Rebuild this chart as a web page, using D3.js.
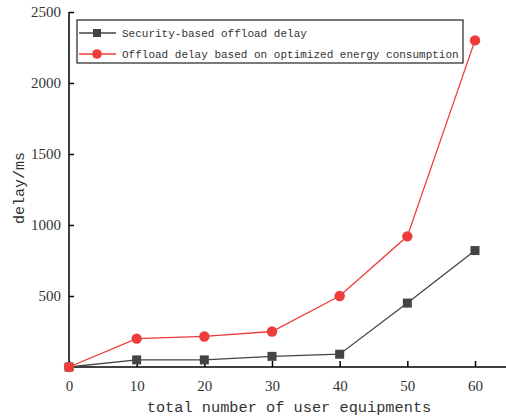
<!DOCTYPE html>
<html><head><meta charset="utf-8">
<script src="https://cdn.jsdelivr.net/npm/d3@7"></script>
<style>body{margin:0;background:#fff}svg{display:block}</style>
</head><body>
<svg id="chart" width="506" height="417"></svg>
<script>
const users = [0, 10, 20, 30, 40, 50, 60];
const securityDelay = [0, 50, 50, 75, 90, 450, 820];
const energyDelay = [0, 200, 215, 250, 500, 920, 2300];
const xTicks = [0, 10, 20, 30, 40, 50, 60];
const yTicks = [500, 1000, 1500, 2000, 2500];
const seriesNames = ["Security-based offload delay", "Offload delay based on optimized energy consumption"];

const svg = d3.select("#chart");
const x = d3.scaleLinear().domain([0, 60]).range([69, 475]);
const y = d3.scaleLinear().domain([0, 2500]).range([367, 12]);
const serif = "'Liberation Serif', 'DejaVu Serif', serif";
const mono = "'Liberation Mono', monospace";

// axes: ticks point inward
const xAxis = svg.append("g").attr("transform", "translate(0,367)")
  .call(d3.axisBottom(x).tickValues(xTicks).tickFormat(d3.format("d"))
    .tickSizeInner(-6).tickSizeOuter(0).tickPadding(13));
xAxis.select(".domain").attr("d", "M69,0H506");
const yAxis = svg.append("g").attr("transform", "translate(69,0)")
  .call(d3.axisLeft(y).tickValues(yTicks).tickFormat(d3.format("d"))
    .tickSizeInner(-5).tickSizeOuter(0).tickPadding(8));
yAxis.select(".domain").attr("d", "M0,367V12");
[xAxis, yAxis].forEach(g => {
  g.attr("font-family", null).attr("font-size", null);
  g.selectAll("path,line").attr("stroke", "#000").attr("stroke-width", 1.5);
  g.selectAll("text").style("font-family", serif).style("font-size", "15px").attr("fill", "#333");
});

svg.append("text").attr("x", 289).attr("y", 412).attr("text-anchor", "middle")
  .style("font-family", mono).style("font-size", "15.3px").attr("fill", "#333")
  .text("total number of user equipments");
svg.append("text").attr("transform", "translate(24,188) rotate(-90)").attr("text-anchor", "middle")
  .style("font-family", mono).style("font-size", "15px").attr("fill", "#333")
  .text("delay/ms");

const line = d3.line().x((d, i) => x(users[i])).y(d => y(d));
const colors = ["#444444", "#ee3b3b"];

svg.append("path").datum(securityDelay).attr("d", line).attr("fill", "none")
  .attr("stroke", colors[0]).attr("stroke-width", 1.3);
svg.append("path").datum(energyDelay).attr("d", line).attr("fill", "none")
  .attr("stroke", colors[1]).attr("stroke-width", 1.3);

svg.selectAll(".sq").data(securityDelay).enter().append("rect")
  .attr("x", (d, i) => x(users[i]) - 4.5).attr("y", d => y(d) - 4.5)
  .attr("width", 9).attr("height", 9).attr("fill", colors[0]);
svg.selectAll(".ci").data(energyDelay).enter().append("circle")
  .attr("cx", (d, i) => x(users[i])).attr("cy", d => y(d)).attr("r", 5.2)
  .attr("fill", colors[1]);

// legend
const lg = svg.append("g");
lg.append("rect").attr("x", 77).attr("y", 20).attr("width", 386).attr("height", 43)
  .attr("fill", "#fff").attr("stroke", "#222").attr("stroke-width", 1.2);
seriesNames.forEach((name, i) => {
  const cy = 33 + i * 21;
  lg.append("line").attr("x1", 79).attr("x2", 116).attr("y1", cy).attr("y2", cy)
    .attr("stroke", colors[i]).attr("stroke-width", 1.3);
  if (i === 0) {
    lg.append("rect").attr("x", 93).attr("y", cy - 4).attr("width", 8).attr("height", 8).attr("fill", colors[i]);
  } else {
    lg.append("circle").attr("cx", 97).attr("cy", cy).attr("r", 4.8).attr("fill", colors[i]);
  }
  lg.append("text").attr("x", 122).attr("y", cy + 4).style("font-family", mono)
    .style("font-size", "11px").attr("fill", "#333").text(name);
});
</script>
</body></html>
